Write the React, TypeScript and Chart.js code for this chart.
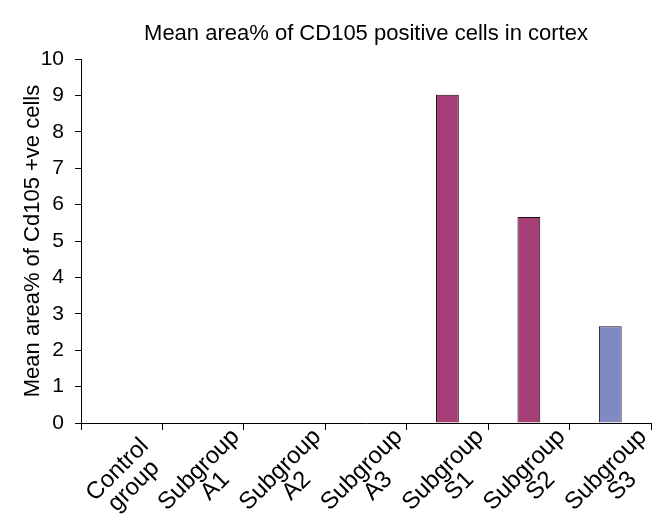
import React, { useEffect, useRef } from "react";
import { Chart, registerables } from "chart.js";

Chart.register(...registerables);

const categories: string[][] = [
  ["Control", "group"],
  ["Subgroup", "A1"],
  ["Subgroup", "A2"],
  ["Subgroup", "A3"],
  ["Subgroup", "S1"],
  ["Subgroup", "S2"],
  ["Subgroup", "S3"],
];
const meanArea: number[] = [0, 0, 0, 0, 9.02, 5.66, 2.66];
const barColors: string[] = ["#A63F78", "#A63F78", "#A63F78", "#A63F78", "#A63F78", "#A63F78", "#7F8AC3"];
const yTicks: number[] = [0, 1, 2, 3, 4, 5, 6, 7, 8, 9, 10];

const chartTitle = "Mean area% of CD105 positive cells in cortex";
const yTitle = "Mean area% of Cd105 +ve cells";
const FONT = "'Liberation Sans', Arial, sans-serif";

const rotatedLabels = {
  id: "rotatedLabels",
  afterDraw(chart: any) {
    const xs = chart.scales.x;
    const ctx = chart.ctx;
    ctx.save();
    ctx.fillStyle = "#000";
    ctx.font = `24px ${FONT}`;
    ctx.textAlign = "center";
    ctx.textBaseline = "middle";
    const lh = 23;
    categories.forEach((lines, i) => {
      const cx = xs.getPixelForValue(i);
      ctx.save();
      ctx.translate(cx + 4, xs.top + 55);
      ctx.rotate(-Math.PI / 4);
      lines.forEach((line, j) => {
        const off = (j - (lines.length - 1) / 2) * lh;
        ctx.fillText(line, 0, off);
      });
      ctx.restore();
    });
    ctx.restore();
  },
};

export default function App() {
  const ref = useRef<HTMLCanvasElement | null>(null);
  useEffect(() => {
    if (!ref.current) return;
    const chart = new Chart(ref.current, {
      type: "bar",
      data: {
        labels: categories.map((c) => c.join(" ")),
        datasets: [
          {
            data: meanArea,
            backgroundColor: barColors,
            borderColor: "#1a0d14",
            borderWidth: 1,
            categoryPercentage: 1,
            barPercentage: 0.28,
          },
        ],
      },
      options: {
        responsive: false,
        animation: false,
        layout: { padding: { left: 0, right: 11, top: 8, bottom: 0 } },
        plugins: {
          legend: { display: false },
          tooltip: { enabled: false },
          title: {
            display: true,
            fullSize: false,
            text: chartTitle,
            color: "#000",
            font: { family: FONT, size: 22, weight: "normal" },
            padding: { top: 13, bottom: 11.6 },
          },
        },
        scales: {
          x: {
            type: "category",
            offset: true,
            grid: {
              display: true,
              drawOnChartArea: false,
              drawTicks: true,
              tickLength: 7,
              color: "#000",
              offset: true,
            },
            border: { display: true, color: "#000", width: 1 },
            ticks: { display: false },
            afterFit: (s: any) => {
              s.height = 98;
            },
          },
          y: {
            min: 0,
            max: 10,
            afterBuildTicks: (s: any) => {
              s.ticks = yTicks.map((v) => ({ value: v }));
            },
            grid: {
              display: true,
              drawOnChartArea: false,
              drawTicks: true,
              tickLength: 6,
              color: "#000",
            },
            border: { display: true, color: "#000", width: 1 },
            ticks: {
              color: "#000",
              padding: 11,
              font: { family: FONT, size: 21 },
            },
            title: {
              display: true,
              text: yTitle,
              color: "#000",
              font: { family: FONT, size: 22 },
              padding: { top: 20, bottom: 0 },
            },
            afterFit: (s: any) => {
              s.width = 81;
            },
          },
        },
      },
      plugins: [rotatedLabels],
    });
    return () => chart.destroy();
  }, []);
  return (
    <div style={{ position: "fixed", left: 0, top: 0, width: 662, height: 521, background: "#fff" }}>
      <canvas ref={ref} width={662} height={521} style={{ display: "block" }} />
    </div>
  );
}
